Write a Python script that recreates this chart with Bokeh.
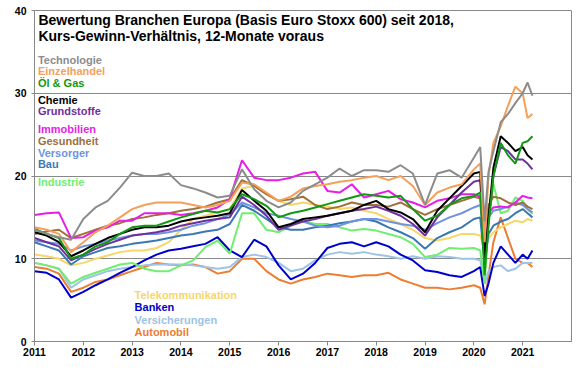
from bokeh.plotting import figure
from bokeh.models import Label, FixedTicker, Range1d
from bokeh.embed import file_html
from bokeh.resources import INLINE

dates = [2011.0, 2011.25, 2011.5, 2011.75, 2012.0, 2012.25, 2012.5, 2012.75,
         2013.0, 2013.25, 2013.5, 2013.75, 2014.0, 2014.25, 2014.5, 2014.75,
         2015.0, 2015.25, 2015.5, 2015.75, 2016.0, 2016.25, 2016.5, 2016.75,
         2017.0, 2017.25, 2017.5, 2017.75, 2018.0, 2018.25, 2018.5, 2018.75,
         2019.0, 2019.25, 2019.5, 2019.75, 2020.0, 2020.13, 2020.22, 2020.3,
         2020.4, 2020.55, 2020.7, 2020.85, 2021.0, 2021.1, 2021.2]

technologie = [13.5, 13.0, 12.6, 12.3, 14.8, 16.2, 17.0, 18.6, 20.4, 20.0, 20.0, 20.3, 18.9, 18.5, 18.0, 17.4, 17.6, 20.8, 18.4, 17.0, 16.2, 16.8, 18.2, 19.0, 19.8, 20.9, 20.0, 20.7, 20.7, 20.5, 21.3, 20.3, 16.5, 20.3, 20.7, 19.8, 22.2, 23.5, 14.5, 20.5, 23.0, 26.5, 27.5, 28.8, 30.0, 31.3, 29.7]
einzelhandel = [13.8, 13.5, 13.0, 10.8, 12.0, 13.2, 14.0, 15.0, 16.0, 16.5, 16.8, 16.8, 16.8, 16.5, 16.2, 16.5, 17.0, 19.2, 19.0, 18.0, 17.0, 17.5, 18.5, 18.8, 19.0, 19.3, 19.5, 19.8, 20.0, 19.5, 20.0, 18.8, 16.5, 18.0, 18.6, 19.0, 20.8, 21.5, 12.0, 20.0, 24.0, 26.0, 28.5, 30.8, 30.0, 27.0, 27.5]
oel_gas = [13.6, 13.0, 12.5, 10.0, 10.5, 11.5, 12.0, 13.0, 13.8, 14.0, 14.0, 14.5, 15.0, 15.4, 15.8, 15.6, 16.0, 17.8, 17.2, 16.4, 15.0, 15.5, 15.8, 16.2, 16.6, 17.0, 17.4, 17.8, 17.6, 17.4, 17.6, 16.0, 14.6, 15.2, 16.5, 17.3, 17.6, 18.0, 8.0, 14.0, 20.0, 24.0, 22.5, 21.5, 24.0, 24.2, 24.8]
chemie = [13.2, 12.8, 12.0, 10.3, 11.0, 11.8, 12.5, 13.0, 13.5, 13.8, 13.8, 14.0, 14.5, 14.8, 15.0, 15.2, 15.5, 18.3, 17.0, 15.8, 13.8, 14.2, 14.8, 15.0, 15.2, 15.5, 15.8, 16.5, 17.0, 16.0, 15.6, 14.8, 13.2, 15.8, 17.3, 18.8, 20.3, 20.5, 10.0, 15.0, 21.0, 24.8, 24.0, 23.0, 23.5, 22.5, 22.0]
grundstoffe = [12.5, 12.0, 11.5, 9.8, 10.5, 11.2, 11.8, 12.3, 12.8, 13.0, 13.2, 13.5, 14.0, 14.3, 14.6, 14.8, 15.0, 17.5, 16.5, 15.2, 13.5, 14.0, 14.5, 14.8, 15.2, 15.5, 15.8, 16.0, 16.3, 15.8, 15.2, 14.2, 12.8, 15.0, 16.5, 18.0, 19.3, 19.5, 10.5, 14.5, 20.0, 23.5, 23.0, 22.0, 22.0, 21.5, 20.8]
immobilien = [15.3, 15.5, 15.6, 12.5, 12.6, 13.4, 13.8, 14.6, 14.6, 15.5, 15.5, 15.5, 15.3, 15.5, 15.8, 16.2, 17.2, 21.9, 19.8, 19.5, 19.5, 19.8, 20.3, 20.5, 18.2, 18.0, 19.0, 17.4, 17.8, 18.2, 17.2, 16.8, 16.2, 17.0, 17.3, 17.8, 17.8, 17.5, 11.5, 15.5, 16.2, 16.3, 16.2, 16.8, 17.6, 17.4, 17.3]
gesundheit = [13.0, 13.3, 13.5, 12.5, 13.0, 13.5, 14.0, 14.3, 14.8, 15.0, 15.3, 15.5, 15.8, 16.0, 16.3, 16.8, 17.2, 19.5, 18.8, 17.8, 17.0, 17.2, 17.5, 16.5, 16.0, 16.3, 16.8, 16.5, 16.5, 16.3, 16.8, 16.0, 15.3, 16.0, 16.5, 17.0, 17.5, 17.3, 13.5, 16.5, 17.5, 17.3, 16.8, 16.5, 16.8, 16.3, 16.0]
versorger = [12.2, 12.0, 11.8, 11.0, 11.5, 11.8, 12.2, 12.5, 12.8, 13.0, 13.0, 13.2, 13.5, 14.0, 14.3, 14.8, 15.3, 16.8, 16.2, 15.5, 15.2, 14.8, 14.5, 14.0, 13.8, 14.0, 14.5, 14.8, 14.8, 14.5, 14.2, 14.0, 13.5, 14.3, 15.0, 15.5, 16.2, 16.5, 12.5, 15.0, 15.8, 16.0, 16.3, 16.8, 16.5, 16.0, 15.6]
bau = [12.0, 11.5, 11.0, 9.3, 10.3, 10.8, 11.3, 11.5, 11.8, 12.0, 12.2, 12.5, 12.8, 13.0, 13.3, 13.5, 14.2, 16.5, 15.8, 14.8, 13.8, 13.5, 13.5, 13.8, 14.0, 14.3, 14.5, 14.8, 14.5, 13.8, 13.2, 12.5, 11.2, 12.5, 13.2, 13.8, 14.8, 15.0, 9.5, 13.0, 14.0, 14.5, 14.8, 15.5, 16.0, 15.5, 15.0]
industrie = [9.5, 9.2, 8.8, 7.0, 7.8, 8.3, 8.8, 9.3, 9.5, 8.8, 8.5, 8.5, 9.2, 9.8, 11.4, 12.2, 10.6, 15.5, 15.5, 13.5, 13.2, 14.0, 14.6, 14.2, 14.2, 13.8, 13.4, 13.6, 13.4, 13.0, 12.6, 11.8, 10.2, 10.5, 11.3, 11.2, 11.3, 11.0, 7.0, 14.5, 19.0, 15.5, 15.8, 17.4, 17.0, 16.0, 15.4]
telekom = [10.5, 10.3, 10.0, 9.2, 9.5, 10.0, 10.4, 10.8, 11.0, 11.0, 11.3, 12.0, 13.5, 14.8, 15.2, 15.6, 16.0, 18.5, 18.8, 17.8, 17.0, 16.5, 16.8, 16.5, 16.3, 16.0, 16.2, 15.8, 15.5, 14.8, 14.2, 13.5, 12.5, 12.2, 12.5, 13.0, 13.0, 12.8, 11.0, 12.5, 13.2, 13.8, 14.2, 14.6, 14.4, 14.8, 14.6]
banken = [8.5, 8.3, 7.5, 5.3, 6.0, 6.8, 7.5, 8.3, 9.0, 9.8, 10.5, 11.0, 11.2, 11.5, 11.8, 12.6, 11.0, 10.2, 12.3, 11.5, 9.2, 7.5, 8.2, 9.5, 11.3, 11.8, 12.0, 11.5, 12.0, 11.5, 10.5, 9.8, 8.6, 8.4, 8.0, 7.8, 8.5, 9.0, 5.5, 7.0, 9.5, 11.5, 10.5, 9.5, 10.5, 10.0, 11.0]
versicherungen = [9.5, 9.2, 8.8, 6.5, 7.5, 8.0, 8.5, 8.8, 9.0, 9.2, 9.3, 9.3, 9.3, 9.2, 9.0, 8.8, 9.0, 10.2, 10.5, 10.2, 9.5, 8.5, 8.8, 9.8, 10.5, 10.8, 10.6, 10.8, 10.5, 10.3, 10.0, 10.3, 10.0, 10.3, 10.2, 10.0, 10.0, 9.8, 7.0, 8.5, 9.0, 9.2, 8.5, 8.8, 9.5, 9.5, 9.5]
automobil = [9.0, 8.8, 8.2, 6.0, 6.5, 7.2, 7.5, 8.0, 8.5, 9.0, 9.5, 9.3, 9.2, 9.3, 9.0, 8.2, 8.5, 10.0, 10.0, 8.5, 7.5, 7.0, 7.5, 7.8, 8.2, 8.0, 7.8, 8.0, 8.0, 8.3, 7.5, 7.0, 6.5, 6.5, 6.3, 6.5, 6.8, 6.5, 4.5, 8.0, 12.0, 15.0, 12.5, 10.0, 9.5, 9.5, 9.0]

names_top = ["Technologie", "Einzelhandel", "Öl & Gas", "Chemie", "Grundstoffe",
             "Immobilien", "Gesundheit", "Versorger", "Bau", "Industrie"]
names_bottom = ["Telekommunikation", "Banken", "Versicherungen", "Automobil"]
colors = {
    "Technologie": "#8c8c8c", "Einzelhandel": "#f5a05a", "Öl & Gas": "#119911",
    "Chemie": "#000000", "Grundstoffe": "#7030a0", "Immobilien": "#e61ee6",
    "Gesundheit": "#a0703c", "Versorger": "#6f93e0", "Bau": "#3a78b4",
    "Industrie": "#70ee70", "Telekommunikation": "#f7d66a", "Banken": "#0000cc",
    "Versicherungen": "#9dc3e6", "Automobil": "#ed7d31",
}
values = {
    "Technologie": technologie, "Einzelhandel": einzelhandel, "Öl & Gas": oel_gas,
    "Chemie": chemie, "Grundstoffe": grundstoffe, "Immobilien": immobilien,
    "Gesundheit": gesundheit, "Versorger": versorger, "Bau": bau,
    "Industrie": industrie, "Telekommunikation": telekom, "Banken": banken,
    "Versicherungen": versicherungen, "Automobil": automobil,
}
x_ticks = list(range(2011, 2022))
y_ticks = [0, 10, 20, 30, 40]

FONT = "Liberation Sans"

p = figure(width=580, height=375, output_backend="svg", toolbar_location=None,
           x_range=Range1d(2011, 2022), y_range=Range1d(0, 40),
           min_border_left=34, min_border_right=9, min_border_top=10, min_border_bottom=34)
p.background_fill_color = "white"
p.border_fill_color = "white"
p.outline_line_color = "#888888"
p.outline_line_width = 1

p.xgrid.visible = False
p.ygrid.ticker = FixedTicker(ticks=[10, 20, 30])
p.ygrid.grid_line_color = "#888888"
p.ygrid.grid_line_width = 1

p.xaxis.ticker = FixedTicker(ticks=x_ticks)
p.yaxis.ticker = FixedTicker(ticks=y_ticks)
for ax in (p.xaxis, p.yaxis):
    ax.major_label_text_font = FONT
    ax.major_label_text_font_style = "bold"
    ax.major_label_text_font_size = "10.5px"
    ax.major_label_text_color = "black"
    ax.axis_line_color = "#888888"
    ax.major_tick_line_color = "#888888"
    ax.minor_tick_line_color = None
    ax.major_tick_in = 0
p.xaxis.major_tick_out = 4
p.xaxis.major_label_standoff = 2
p.yaxis.major_tick_out = 3
p.yaxis.major_label_standoff = 5

order = list(reversed(names_bottom)) + list(reversed(names_top))
for name in order:
    p.line(dates, values[name], line_width=2, color=colors[name])

def add_label(x, y, text, color, size="11px", align="left"):
    p.add_layout(Label(x=x, y=y, text=text, text_color=color, text_font=FONT,
                       text_font_style="bold", text_font_size=size,
                       text_baseline="middle", text_align=align))

add_label(2011.08, 38.85, "Bewertung Branchen Europa (Basis Euro Stoxx 600) seit 2018,", "black", "14px")
add_label(2011.08, 36.95, "Kurs-Gewinn-Verhältnis, 12-Monate voraus", "black", "14px")

top_y = [33.96, 32.63, 31.18, 29.24, 27.83, 25.74, 24.29, 22.76, 21.39, 19.25]
for name, yy in zip(names_top, top_y):
    add_label(2011.07, yy, name, colors[name])
bottom_y = [5.56, 4.11, 2.54, 1.09]
for name, yy in zip(names_bottom, bottom_y):
    add_label(2013.05, yy, name, colors[name])

add_label(2022.08, -3.0, "Quelle: Refinitiv, Baader Bank Kapitalmarktanalyse", "black", "12px", align="right")

open("out.html", "w").write(file_html(p, INLINE))
